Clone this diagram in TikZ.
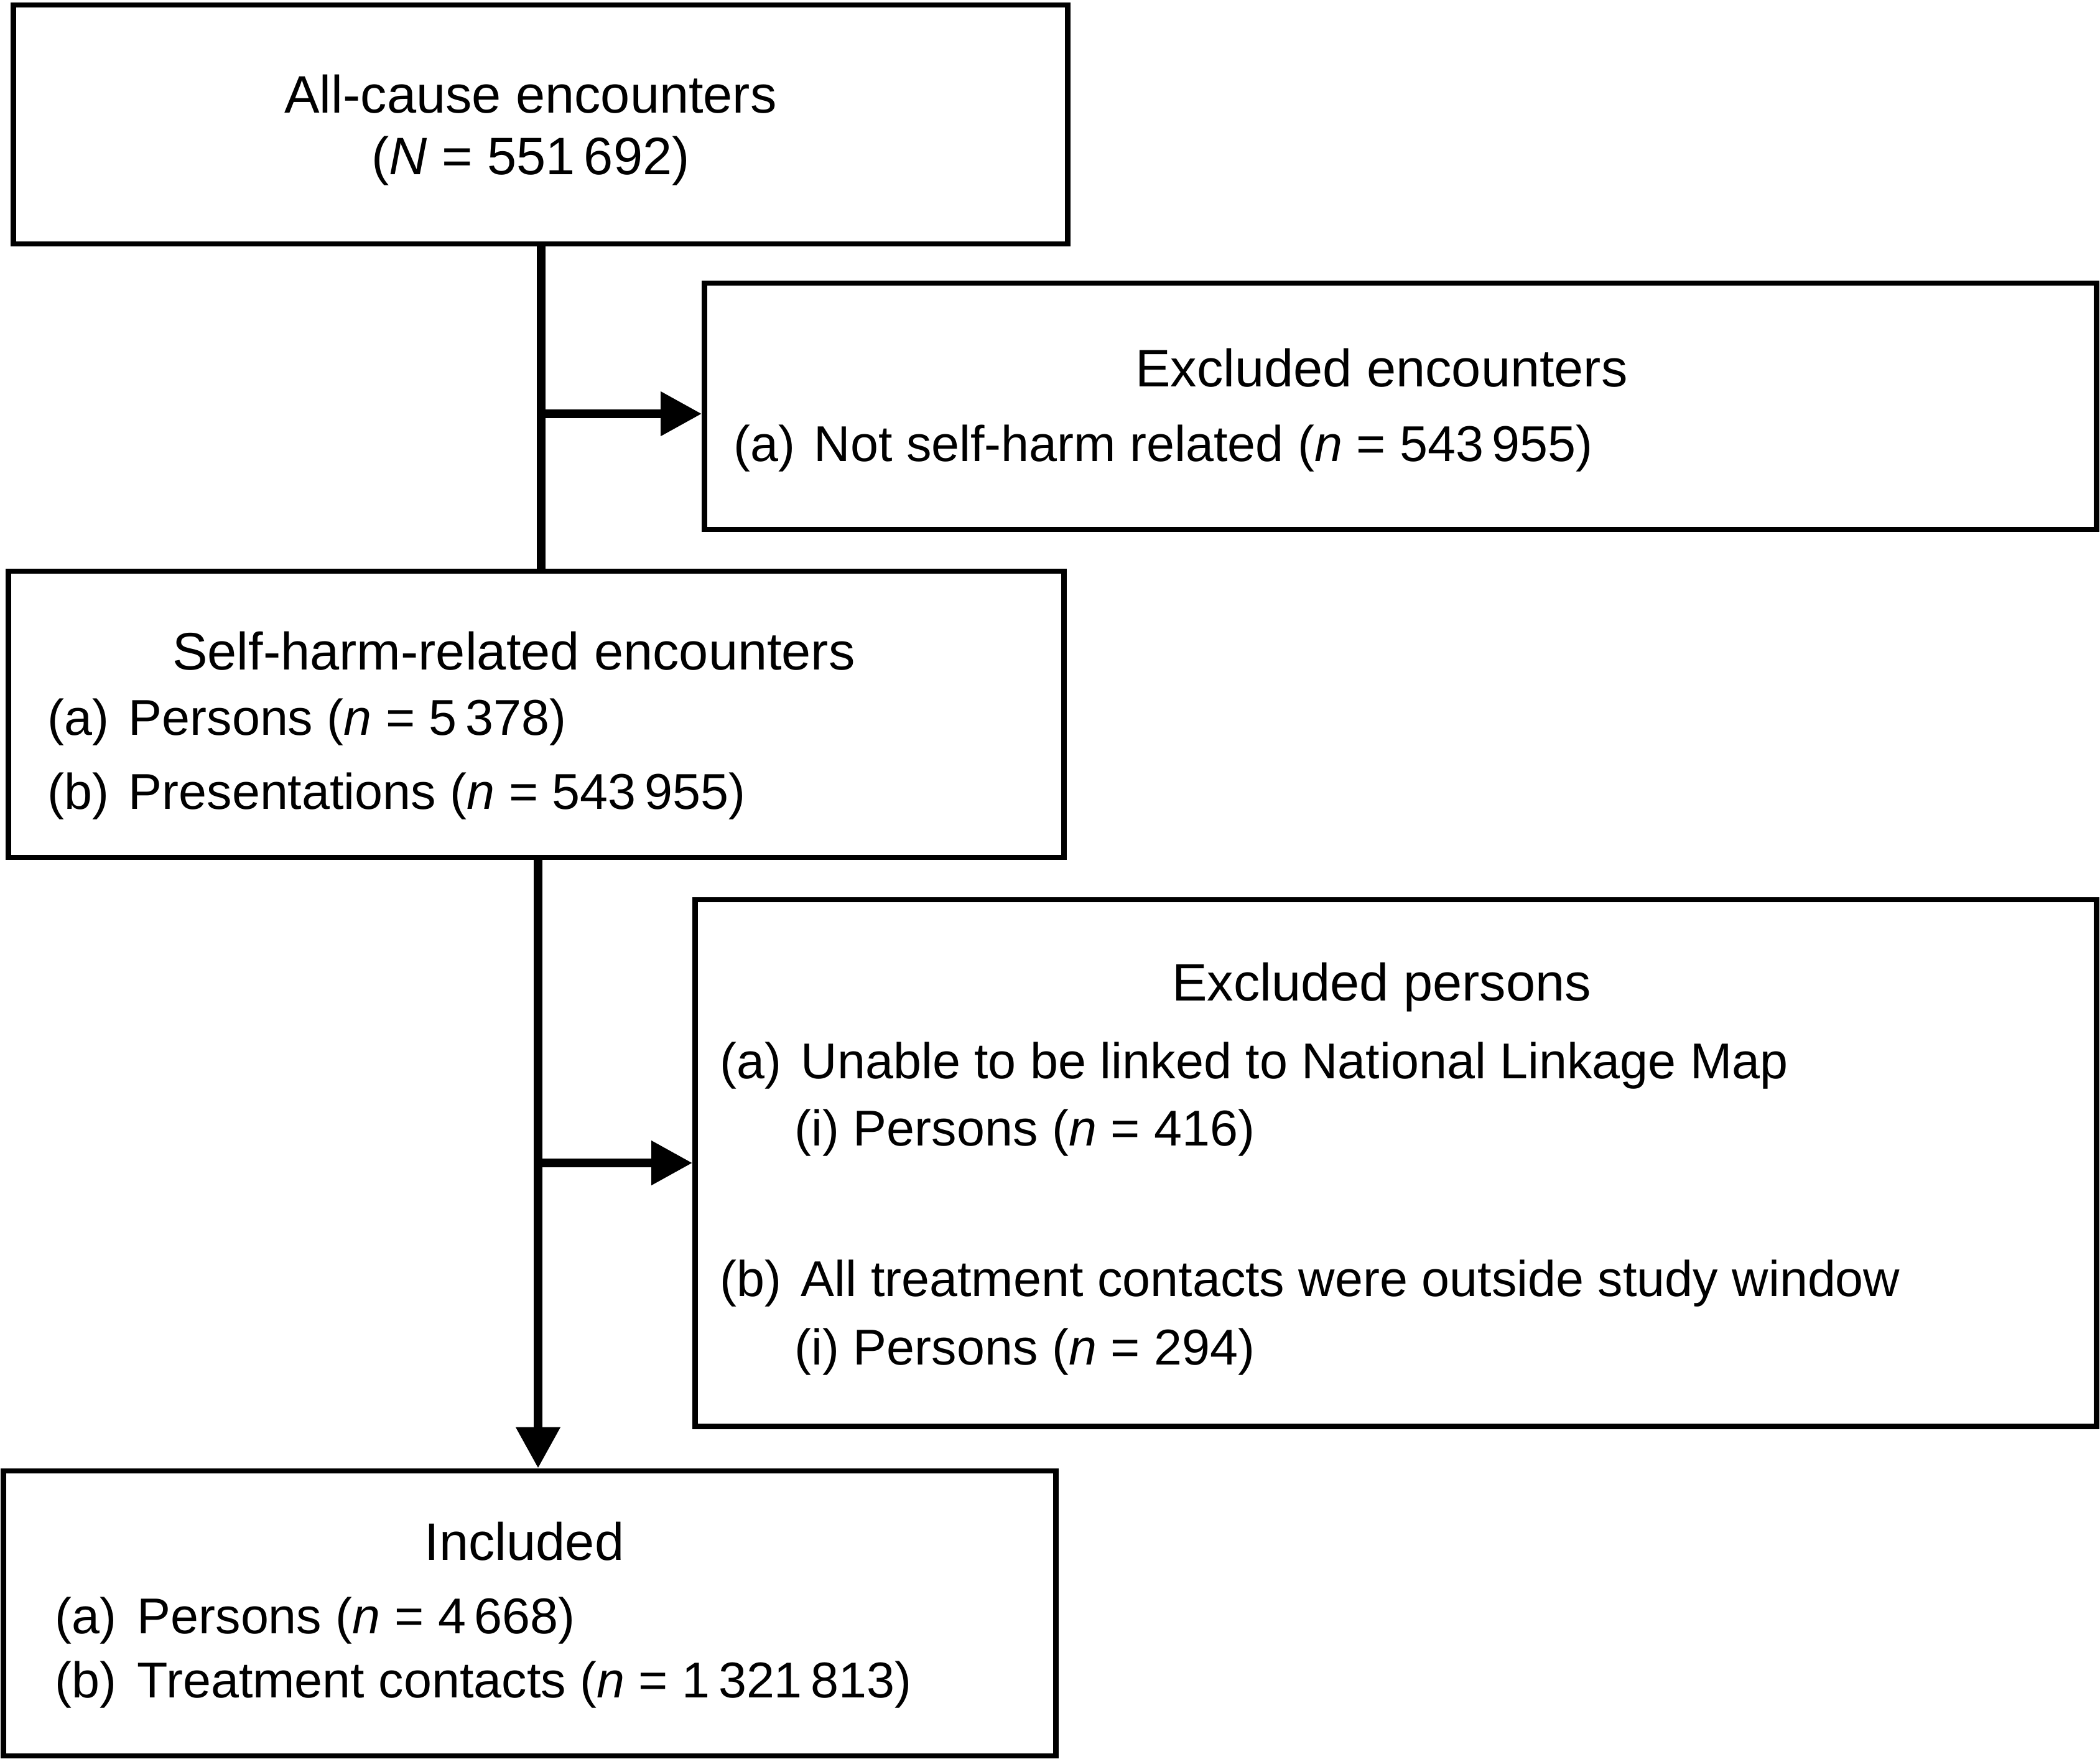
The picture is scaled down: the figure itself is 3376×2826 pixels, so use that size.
\documentclass[tikz,border=0pt]{standalone}
\usepackage{fontspec}
\setmainfont{Liberation Sans}
\usepackage{tikz}
\usetikzlibrary{positioning,arrows.meta,calc}
\usepackage{xcolor}

\begin{document}
\begin{tikzpicture}[x=0.01cm,y=-0.01cm,
  every node/.style={font=\fontsize{23pt}{28pt}\selectfont, inner sep=0pt},
  box/.style={draw, line width=2.4pt, rectangle, inner sep=0pt},
  head/.style={anchor=base, font=\fontsize{24.1pt}{28pt}\selectfont},
  item/.style={anchor=base west},
  link/.style={line width=4pt},
  tip/.style={-{Triangle[length=0.66cm,width=0.68cm]}}]
\useasboundingbox (0,0) rectangle (3376,2826);
% boxes
\node[box, minimum width=16.94cm, minimum height=3.84cm] (allc) at (869,200) {};
\node[box, minimum width=22.37cm, minimum height=3.96cm] (exenc) at (2251.5,653) {};
\node[box, minimum width=16.96cm, minimum height=4.60cm] (selfh) at (862,1148) {};
\node[box, minimum width=22.52cm, minimum height=8.46cm] (expers) at (2244,1869) {};
\node[box, minimum width=16.91cm, minimum height=4.58cm] (incl) at (851.5,2593) {};
% texts
\node[head] (allcA) at (853,181) {All-cause encounters};
\node[head] (allcB) at (853,280) {(\textit{N} = 551\,692)};
\node[head] (exencA) at (2221,621) {Excluded encounters};
\node[item] (exencB) at (1179,741) {\makebox[1.29cm][l]{(a)}Not self-harm related (\textit{n} = 543\,955)};
\node[head] (selfhA) at (826,1076) {Self-harm-related encounters};
\node[item] (selfhB) at (76,1181) {\makebox[1.30cm][l]{(a)}Persons (\textit{n} = 5\,378)};
\node[item] (selfhC) at (76,1300) {\makebox[1.30cm][l]{(b)}Presentations (\textit{n} = 543\,955)};
\node[head] (expersA) at (2221,1608) {Excluded persons};
\node[item] (expersB) at (1157,1733) {\makebox[1.30cm][l]{(a)}Unable to be linked to National Linkage Map};
\node[item] (expersC) at (1277,1841) {(i) Persons (\textit{n} = 416)};
\node[item] (expersD) at (1157,2083) {\makebox[1.30cm][l]{(b)}All treatment contacts were outside study window};
\node[item] (expersE) at (1277,2193) {(i) Persons (\textit{n} = 294)};
\node[head] (inclA) at (843,2507) {Included};
\node[item] (inclB) at (88,2625) {\makebox[1.32cm][l]{(a)}Persons (\textit{n} = 4\,668)};
\node[item] (inclC) at (88,2728) {\makebox[1.32cm][l]{(b)}Treatment contacts (\textit{n} = 1\,321\,813)};
% connectors
\coordinate (j1) at (870,665);
\coordinate (j2) at (865,1869);
\draw[link] (allc.south -| j1) -- (selfh.north -| j1);
\draw[link,tip] (j1) -- (exenc.west |- j1);
\draw[link,tip] (selfh.south -| j2) -- (incl.north -| j2);
\draw[link,tip] (j2) -- (expers.west |- j2);
\end{tikzpicture}
\end{document}
